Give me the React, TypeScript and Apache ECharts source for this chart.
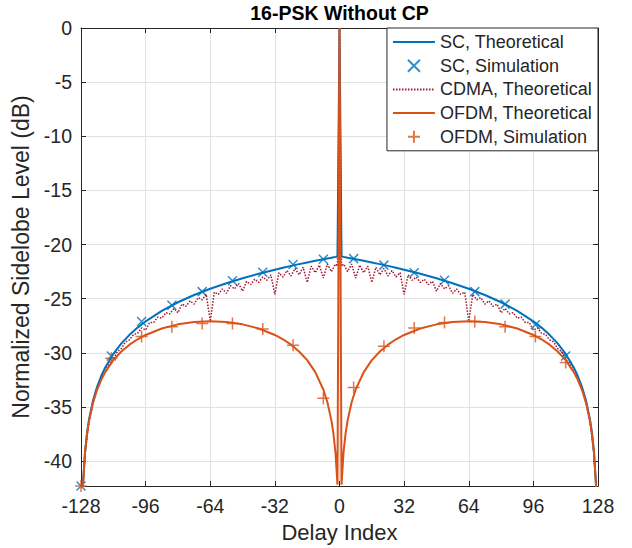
import React, { useEffect, useRef } from 'react';
import * as echarts from 'echarts';

// Theoretical curves: delay index and level (dB); +/-128 stands for -Inf (off axis)
const THEORY_DELAYS = [
  -128, -127, -126, -125, -124, -122, -120, -118, -116, -112, -108, -104, -100, -96, -88, -80, -72, -64, -56, -48, -40, -32, -28, -24, -20, -16, -12, -8, -6, -4, -3, -2, -1,
  0,
  1, 2, 3, 4, 6, 8, 12, 16, 20, 24, 28, 32, 40, 48, 56, 64, 72, 80, 88, 96, 100, 104, 108, 112, 116, 118, 120, 122, 124, 125, 126, 127, 128,
];
const SC_THEORY = [
  -48, -42.14, -39.13, -37.37, -36.12, -34.36, -33.11, -32.14, -31.35, -30.1, -29.13, -28.34, -27.67, -27.09, -26.12, -25.33, -24.66, -24.08, -23.57, -23.11, -22.7, -22.32, -22.14, -21.97, -21.81, -21.65, -21.5, -21.35, -21.28, -21.21, -21.17, -21.14, -21.1,
  0,
  -21.1, -21.14, -21.17, -21.21, -21.28, -21.35, -21.5, -21.65, -21.81, -21.97, -22.14, -22.32, -22.7, -23.11, -23.57, -24.08, -24.66, -25.33, -26.12, -27.09, -27.67, -28.34, -29.13, -30.1, -31.35, -32.14, -33.11, -34.36, -36.12, -37.37, -39.13, -42.14, -48,
];
const OFDM_THEORY = [
  -48, -42.18, -39.2, -37.47, -36.26, -34.57, -33.39, -32.5, -31.78, -30.68, -29.88, -29.25, -28.75, -28.35, -27.75, -27.37, -27.16, -27.09, -27.16, -27.37, -27.75, -28.35, -28.75, -29.25, -29.88, -30.68, -31.78, -33.39, -34.57, -36.26, -37.47, -39.2, -42.18,
  0,
  -42.18, -39.2, -37.47, -36.26, -34.57, -33.39, -31.78, -30.68, -29.88, -29.25, -28.75, -28.35, -27.75, -27.37, -27.16, -27.09, -27.16, -27.37, -27.75, -28.35, -28.75, -29.25, -29.88, -30.68, -31.78, -32.5, -33.39, -34.57, -36.26, -37.47, -39.2, -42.18, -48,
];

const CDMA_DELAYS = [
  -128, -127, -126, -124, -122, -120, -118, -116, -114, -112, -110, -108, -106, -104, -102, -100, -98, -96, -94, -92, -90, -88, -86, -84, -82, -80, -78, -76, -74, -72, -70, -68, -66, -64,
  -62, -60, -58, -56, -54, -52, -50, -48, -46, -44, -42, -40, -38, -36, -34, -32, -30, -28, -26, -24, -22, -20, -18, -16, -14, -12, -10, -8, -6, -4, -2, -1,
  0,
  1, 2, 4, 6, 8, 10, 12, 14, 16, 18, 20, 22, 24, 26, 28, 30, 32, 34, 36, 38, 40, 42, 44, 46, 48, 50, 52, 54, 56, 58, 60, 62,
  64, 66, 68, 70, 72, 74, 76, 78, 80, 82, 84, 86, 88, 90, 92, 94, 96, 98, 100, 102, 104, 106, 108, 110, 112, 114, 116, 118, 120, 122, 124, 126, 127, 128,
];
const CDMA_THEORY = [
  -48, -42.2, -39.4, -36.3, -34.6, -33.4, -32.4, -31.7, -31.0, -30.6, -29.9, -29.6, -29.0, -28.8, -28.3, -28.2, -27.7, -27.9, -27.2, -27.2, -26.7, -26.8, -26.3, -26.4, -25.9, -26.3, -25.5, -25.7, -25.2, -25.5, -24.9, -25.1, -24.6, -27.1,
  -24.4, -24.6, -24.1, -24.5, -23.8, -24.1, -23.6, -24.3, -23.4, -23.7, -23.2, -23.5, -23.0, -23.3, -22.8, -24.6, -22.6, -23.0, -22.4, -22.9, -22.2, -22.8, -22.1, -23.5, -22.0, -22.6, -21.9, -23.1, -21.8, -22.5, -21.8, -22.0,
  0,
  -22.0, -21.8, -22.5, -21.8, -23.1, -21.9, -22.6, -22.0, -23.5, -22.1, -22.8, -22.2, -22.9, -22.4, -23.0, -22.6, -24.6, -22.8, -23.3, -23.0, -23.5, -23.2, -23.7, -23.4, -24.3, -23.6, -24.1, -23.8, -24.5, -24.1, -24.6, -24.4,
  -27.1, -24.6, -25.1, -24.9, -25.5, -25.2, -25.7, -25.5, -26.3, -25.9, -26.4, -26.3, -26.8, -26.7, -27.2, -27.2, -27.9, -27.7, -28.2, -28.3, -28.8, -29.0, -29.6, -29.9, -30.6, -31.0, -31.7, -32.4, -33.4, -34.6, -36.3, -39.4, -42.2, -48,
];

// Simulation markers
const SIM_DELAYS = [-128, -113, -98, -83, -68, -53, -38, -23, -8, 7, 22, 37, 52, 67, 82, 97, 112];
const SC_SIM = [-42.3, -30.3, -27.1, -25.6, -24.35, -23.35, -22.55, -21.85, -21.35, -21.3, -21.9, -22.6, -23.3, -24.35, -25.5, -27.4, -30.3];
const OFDM_SIM = [-42.3, -30.5, -28.5, -27.6, -27.3, -27.3, -27.8, -29.3, -34.2, -33.2, -29.4, -27.7, -27.2, -27.1, -27.6, -28.5, -30.9];

const X_TICKS = [-128, -96, -64, -32, 0, 32, 64, 96, 128];
const Y_TICKS = [-40, -35, -30, -25, -20, -15, -10, -5, 0];

const NAMES = ['SC, Theoretical', 'SC, Simulation', 'CDMA, Theoretical', 'OFDM, Theoretical', 'OFDM, Simulation'];

const FONT = "'Liberation Sans', Arial, Helvetica, sans-serif";
const TEXT = '#262626';
const GRID = '#e1e1e1';
const BLUE = '#0072BD';
const ORANGE = '#D95319';
const WINE = '#A2142F';
const X_SYMBOL = 'path://M0,0L10,10M10,0L0,10';
const PLUS_SYMBOL = 'path://M5,0L5,10M0,5L10,5';

const zip = (xs: number[], ys: number[]) => xs.map((x, i) => [x, ys[i]]);

export default function App() {
  const ref = useRef<HTMLDivElement>(null);
  useEffect(() => {
    document.body.style.margin = '0';
    const chart = echarts.init(ref.current!, undefined, { renderer: 'svg' });
    const axisLine = { show: true, onZero: false, lineStyle: { color: TEXT, width: 1 } };
    const tick = { show: true, inside: true, length: 5, lineStyle: { color: TEXT, width: 1 } };
    const yMin = -42.3;
    const lineOnly = { opacity: 0 };
    chart.setOption({
      animation: false,
      backgroundColor: '#ffffff',
      textStyle: { fontFamily: FONT },
      graphic: [
        {
          type: 'text',
          x: 339.5,
          y: 13,
          style: {
            text: '16-PSK Without CP',
            fontSize: 19.5,
            fontWeight: 'bold',
            fontFamily: FONT,
            fill: '#000000',
            align: 'center',
            verticalAlign: 'middle',
          },
        },
      ],
      grid: { left: 81, right: 34, top: 28, bottom: 62, containLabel: false },
      xAxis: [
        {
          type: 'value',
          min: X_TICKS[0],
          max: X_TICKS[X_TICKS.length - 1],
          interval: 32,
          position: 'bottom',
          axisLine,
          axisTick: tick,
          axisLabel: { color: TEXT, fontSize: 19.5, margin: 10, fontFamily: FONT },
          splitLine: { show: true, lineStyle: { color: GRID, width: 1 } },
          name: 'Delay Index',
          nameLocation: 'middle',
          nameGap: 35,
          nameTextStyle: { color: TEXT, fontSize: 22, fontFamily: FONT },
        },
        {
          type: 'value',
          min: X_TICKS[0],
          max: X_TICKS[X_TICKS.length - 1],
          interval: 32,
          position: 'top',
          axisLine,
          axisTick: tick,
          axisLabel: { show: false },
          splitLine: { show: false },
        },
      ],
      yAxis: [
        {
          type: 'value',
          min: yMin,
          max: Y_TICKS[Y_TICKS.length - 1],
          splitNumber: 8,
          minInterval: 5,
          maxInterval: 5,
          position: 'left',
          axisLine,
          axisTick: tick,
          axisLabel: {
            color: TEXT,
            fontSize: 19.5,
            margin: 9,
            fontFamily: FONT,
            formatter: (v: number) => (Y_TICKS.some((t) => Math.abs(t - v) < 1e-6) ? String(Math.round(v)) : ''),
          },
          splitLine: { show: true, lineStyle: { color: GRID, width: 1 } },
          name: 'Normalized Sidelobe Level (dB)',
          nameLocation: 'middle',
          nameGap: 36,
          nameTextStyle: { color: TEXT, fontSize: 23, fontFamily: FONT },
        },
        {
          type: 'value',
          min: yMin,
          max: Y_TICKS[Y_TICKS.length - 1],
          splitNumber: 8,
          minInterval: 5,
          maxInterval: 5,
          position: 'right',
          axisLine,
          axisTick: tick,
          axisLabel: { show: false },
          splitLine: { show: false },
        },
      ],
      legend: {
        orient: 'vertical',
        right: 34,
        top: 28,
        backgroundColor: '#ffffff',
        borderColor: TEXT,
        borderWidth: 1,
        borderRadius: 0,
        padding: [5, 6, 5, 5],
        itemWidth: 42,
        itemHeight: 12,
        itemGap: 5.7,
        textStyle: { fontSize: 18, color: TEXT, fontFamily: FONT },
        data: [
          { name: NAMES[0], itemStyle: lineOnly },
          { name: NAMES[1] },
          { name: NAMES[2], itemStyle: lineOnly },
          { name: NAMES[3], itemStyle: lineOnly },
          { name: NAMES[4] },
        ],
      },
      series: [
        {
          name: NAMES[0],
          type: 'line',
          data: zip(THEORY_DELAYS, SC_THEORY),
          symbol: 'none',
          lineStyle: { color: BLUE, width: 2 },
          itemStyle: { color: BLUE },
        },
        {
          name: NAMES[1],
          type: 'scatter',
          data: zip(SIM_DELAYS, SC_SIM),
          symbol: X_SYMBOL,
          symbolSize: 9,
          clip: false,
          itemStyle: { color: 'rgba(0,0,0,0)', borderColor: BLUE, borderWidth: 1.5 },
        },
        {
          name: NAMES[2],
          type: 'line',
          data: zip(CDMA_DELAYS, CDMA_THEORY),
          symbol: 'none',
          lineStyle: { color: WINE, width: 1.5, type: [1.5, 1.5] },
          itemStyle: { color: WINE },
        },
        {
          name: NAMES[3],
          type: 'line',
          data: zip(THEORY_DELAYS, OFDM_THEORY),
          symbol: 'none',
          lineStyle: { color: ORANGE, width: 2 },
          itemStyle: { color: ORANGE },
        },
        {
          name: NAMES[4],
          type: 'scatter',
          data: zip(SIM_DELAYS, OFDM_SIM),
          symbol: PLUS_SYMBOL,
          symbolSize: 12,
          clip: false,
          itemStyle: { color: 'rgba(0,0,0,0)', borderColor: ORANGE, borderWidth: 1.5 },
        },
      ],
    });
    return () => chart.dispose();
  }, []);
  return <div ref={ref} style={{ width: 632, height: 548 }} />;
}
